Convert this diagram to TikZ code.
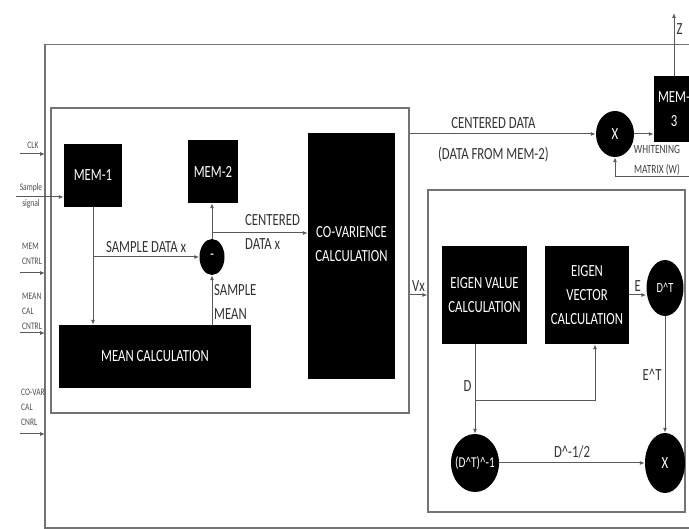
\documentclass[tikz,border=0pt]{standalone}
\usepackage{fontspec}
\setmainfont{Carlito}[FakeStretch=0.75]
\usetikzlibrary{arrows.meta, positioning, shapes.geometric}

\begin{document}
\begin{tikzpicture}[
  x=1pt, y=-1pt,
  block/.style  = {rectangle, fill=black, text=white, inner sep=0pt, align=center,
                   font=\fontsize{17}{24}\selectfont},
  blktxt/.style = {text=white, inner sep=0pt, align=center, font=\fontsize{17}{24}\selectfont},
  frame/.style  = {rectangle, draw=black!55, line width=1.2pt, inner sep=0pt},
  dot/.style    = {ellipse, fill=black, text=white, inner sep=0pt,
                   font=\fontsize{17}{20}\selectfont},
  arrow/.style  = {-{Latex[length=5pt, width=4pt]}, draw=black!65, line width=1pt},
  lbl/.style    = {align=center, inner sep=1pt, text=black!80, font=\fontsize{17}{24}\selectfont},
  sml/.style    = {align=center, inner sep=0pt, text=black!75, font=\fontsize{12.5}{20}\selectfont},
  ctl/.style    = {align=left, inner sep=0pt, text=black!70, font=\fontsize{10}{15}\selectfont}
]

\useasboundingbox[fill=white] (0,0) rectangle (689,529);

% ── Frames ───────────────────────────────────────────────────────────────────
\coordinate (otl) at (45,44.5);
\coordinate (obl) at (45,528);
\draw[draw=black!55, line width=1.2pt] (695,44.5) -- (otl) -- (obl) -- (695,528);

\node[frame, minimum width=358, minimum height=305] (meanbox) at (230,260.5) {};
\node[frame, minimum width=257, minimum height=322] (eigbox) at (556.5,351) {};

% ── Control inputs (left side) ───────────────────────────────────────────────
\coordinate (clk)   at (20,154);
\coordinate (smp)   at (16,197);
\coordinate (memc)  at (20,273);
\coordinate (meanc) at (20,333);
\coordinate (covc)  at (20,434);

\node[ctl] (clklbl)   at (33,145)  {CLK};
\node[ctl, align=center, font=\fontsize{10}{16}\selectfont] (smplbl) at (31,196) {Sample\\signal};
\node[ctl, anchor=west] (memlbl)   at (22,253.5) {MEM\\CNTRL};
\node[ctl, anchor=west] (meanlbl)  at (22,311.5) {MEAN\\CAL\\CNTRL};
\node[ctl, anchor=west] (covlbl)   at (21,407)   {CO-VAR\\CAL\\CNRL};

% ── Mean / memory blocks ─────────────────────────────────────────────────────
\node[block, minimum width=58, minimum height=63]  (mem1) at (93,175.5)  {MEM-1};
\node[block, minimum width=50, minimum height=63]  (mem2) at (213,171.5) {MEM-2};
\node[block, minimum width=192, minimum height=63] (mean) at (155,356.5) {MEAN CALCULATION};
\node[block, minimum width=87, minimum height=246] (cov)  at (351.5,256) {};
\node[blktxt] (covtxt) at ([yshift=12pt]cov.center) {CO-VARIENCE\\CALCULATION};
\node[dot, minimum width=25, minimum height=36] (sub) at (212,257) {-};

\draw[arrow] (smp) -- (smp -| mem1.west);
\draw[arrow] (clk) -- (clk -| otl);
\draw[arrow] (memc) -- (memc -| otl);
\draw[arrow] (meanc) -- (meanc -| otl);
\draw[arrow] (covc) -- (covc -| otl);

\draw[arrow] (mem1.south) -- (mem1.south |- mean.north);
\coordinate (tap) at (mem1.south |- sub.west);
\draw[arrow] (tap) -- (sub.west)
  node[lbl, midway, above=3pt] {SAMPLE DATA x};
\draw[arrow] (sub.north) -- (sub.north |- mem2.south);
\draw[arrow] (sub.south |- mean.north) -- (sub.south);
\node[lbl, anchor=west, align=left] (meanlbl2) at (213,302) {SAMPLE\\MEAN};

\coordinate (ctap) at (sub.north |- 0,233);
\draw[arrow] (ctap) -- (ctap -| cov.west);
\node[lbl, anchor=west, align=left] (centlbl) at (244,232) {CENTERED\\DATA x};

% ── Eigen decomposition (right box) ──────────────────────────────────────────
\node[block, minimum width=85, minimum height=98] (eval) at (484.5,295) {EIGEN VALUE\\CALCULATION};
\node[block, minimum width=84, minimum height=98] (evec) at (587,295) {EIGEN\\VECTOR\\CALCULATION};
\node[dot, minimum width=37, minimum height=56, font=\fontsize{14}{16}\selectfont]
  (dt) at (665,288) {\makebox[0pt]{D\textasciicircum T}};
\node[dot, minimum width=48, minimum height=58, font=\fontsize{15}{16}\selectfont]
  (dinv) at (475,463) {\makebox[0pt]{(D\textasciicircum T)\textasciicircum-1}};
\node[dot, minimum width=40, minimum height=60] (mulw) at (665,463) {X};

\coordinate (vxsrc) at (meanbox.east |- eval.west);
\draw[arrow] (vxsrc) -- (vxsrc -| eigbox.west)
  node[lbl, midway, above=2pt] {Vx};

\coordinate (dtap) at (dinv.north |- eval.south);
\draw[arrow] (dtap) -- (dinv.north)
  node[lbl, pos=0.47, left=2pt] {D};
\coordinate (dsplit) at (dinv.north |- 0,401);
\draw[arrow] (dsplit) -| ([xshift=8pt]evec.south);

\draw[arrow] (evec.east) -- (evec.east -| dt.west)
  node[lbl, midway, above=2pt] {E};
\draw[arrow] (dt.south) -- (mulw.north)
  node[lbl, midway, left=2pt] {E\textasciicircum T};
\draw[arrow] (dinv.east) -- (mulw.west)
  node[lbl, midway, above=3pt] {D\textasciicircum-1/2};

% ── Whitening output (top) ───────────────────────────────────────────────────
\node[dot, minimum width=38, minimum height=46] (mulc) at (615,134) {X};
\node[block, minimum width=40, minimum height=66] (mem3) at (674,109) {MEM-\\3};

\coordinate (cdsrc) at (meanbox.east |- mulc.west);
\draw[arrow] (cdsrc) -- (mulc.west)
  node[lbl, pos=0.45, above=4pt] {CENTERED DATA}
  node[lbl, pos=0.45, below=12pt] {(DATA FROM MEM-2)};
\draw[arrow] (mulc.east) -- (mulc.east -| mem3.west);

\coordinate (zout) at (mem3.north |- 0,13);
\draw[arrow] (mem3.north) -- (zout)
  node[lbl, pos=0.75, right=1pt] {Z};

\coordinate (wsrc) at (695,177);
\draw[arrow] (wsrc) -| (mulc.south);
\node[sml] (wlbl) at (657,160) {WHITENING\\MATRIX (W)};

\end{tikzpicture}
\end{document}
